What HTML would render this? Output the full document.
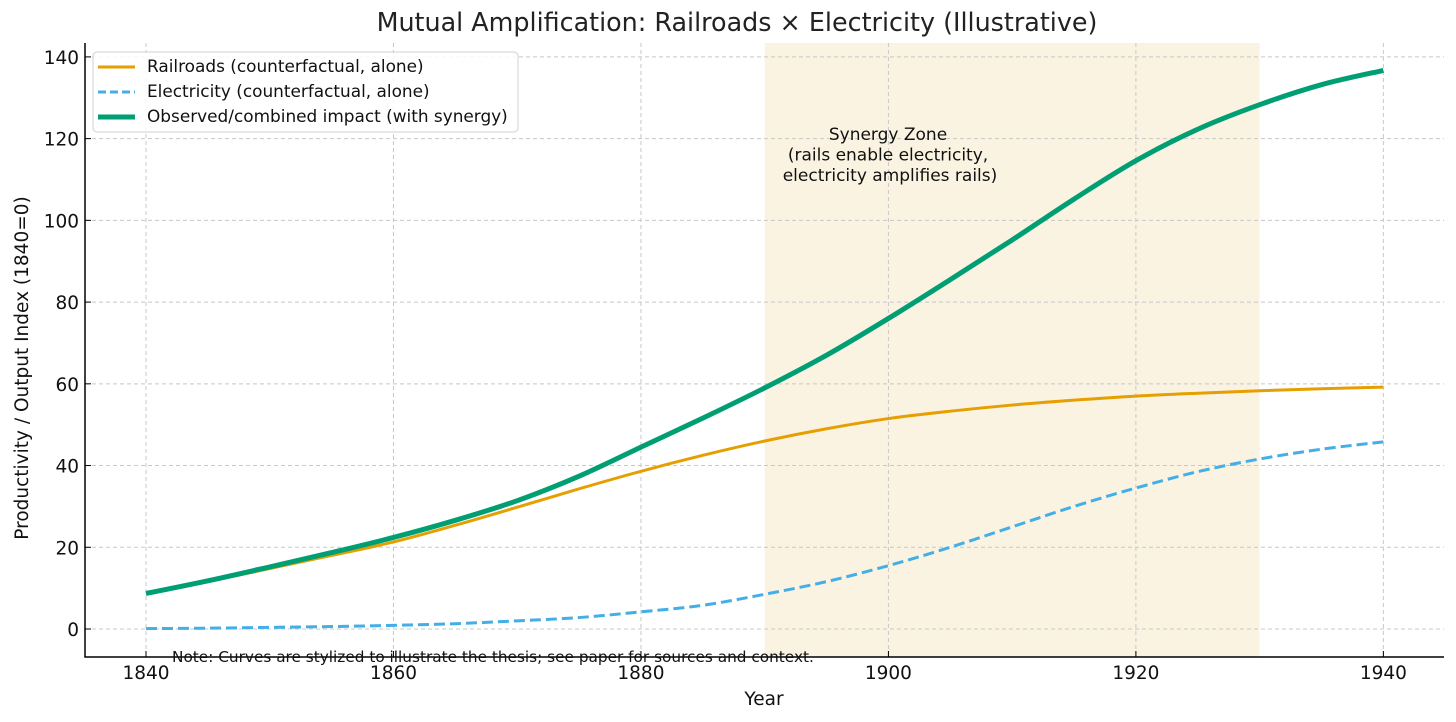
<!DOCTYPE html>
<html><head><meta charset="utf-8">
<style>
html,body{margin:0;padding:0;background:#fff;}
svg{display:block;font-family:"DejaVu Sans","Liberation Sans",sans-serif;}
</style></head>
<body>
<svg id="chart" width="1456" height="722"></svg>
<script>
const years = [1840,1845,1850,1855,1860,1865,1870,1875,1880,1885,1890,1895,1900,1905,1910,1915,1920,1925,1930,1935,1940];
const railroads = [8.7,11.6,14.8,18,21.3,25.4,29.8,34.3,38.6,42.5,46,49,51.5,53.3,54.8,56,57,57.7,58.3,58.8,59.2];
const electricity = [0.1,0.2,0.4,0.6,0.9,1.3,2,2.8,4.2,5.8,8.5,11.6,15.5,20,25,30,34.5,38.5,41.6,44,45.8];
const observed = [8.7,11.8,15.2,18.7,22.4,26.6,31.4,37.4,44.5,51.6,59,67,76,85.5,95.2,105.2,114.6,122.3,128.3,133.2,136.7];
const xTicks = [1840,1860,1880,1900,1920,1940];
const yTicks = [0,20,40,60,80,100,120,140];
const zone = [1890,1930];

const NS="http://www.w3.org/2000/svg";
const svg=document.getElementById('chart');
const L=85,R=1444,T=43,B=657;
const X0=1835.07,X1=1944.9,Y0=-6.85,Y1=143.4;
const sx=v=>L+(v-X0)/(X1-X0)*(R-L);
const sy=v=>B-(v-Y0)/(Y1-Y0)*(B-T);
function mk(tag,attrs,parent){const e=document.createElementNS(NS,tag);for(const k in attrs)e.setAttribute(k,attrs[k]);(parent||svg).appendChild(e);return e;}

const z=mk('rect',{x:sx(zone[0]),y:T,width:sx(zone[1])-sx(zone[0]),height:B-T,fill:'#faf3e2'});



xTicks.forEach(t=>{
  const g=mk('line',{x1:sx(t),x2:sx(t),y1:T,y2:B,stroke:'#c8c8c8','stroke-dasharray':'4,3','stroke-width':1});
  
  
  const tk=mk('line',{x1:sx(t),x2:sx(t),y1:B-6,y2:B,stroke:'#000'});
  
  
  const lb=mk('text',{x:sx(t),y:B+22,'text-anchor':'middle','font-size':18.5,fill:'#111'});
  lb.textContent=t;
  
  
});
yTicks.forEach(t=>{
  const g=mk('line',{x1:L,x2:R,y1:sy(t),y2:sy(t),stroke:'#c8c8c8','stroke-dasharray':'4,3','stroke-width':1});
  
  
  const tk=mk('line',{x1:L,x2:L+6,y1:sy(t),y2:sy(t),stroke:'#000'});
  
  
  const lb=mk('text',{x:L-6,y:sy(t)+7,'text-anchor':'end','font-size':18.5,fill:'#111'});
  lb.textContent=t;
  
  
});

const ax=mk('path',{d:`M${L},${T} L${L},${B} L${R},${B}`,fill:'none',stroke:'#000','stroke-width':1.5});



function smooth(xs,ys){
  const p=xs.map((x,i)=>[sx(x),sy(ys[i])]);
  let d=`M${p[0][0]},${p[0][1]}`;
  for(let i=0;i<p.length-1;i++){
    const p0=p[Math.max(0,i-1)],p1=p[i],p2=p[i+1],p3=p[Math.min(p.length-1,i+2)];
    const c1=[p1[0]+(p2[0]-p0[0])/6,p1[1]+(p2[1]-p0[1])/6];
    const c2=[p2[0]-(p3[0]-p1[0])/6,p2[1]-(p3[1]-p1[1])/6];
    d+=` C${c1[0]},${c1[1]} ${c2[0]},${c2[1]} ${p2[0]},${p2[1]}`;
  }
  return d;
}
const l1=mk('path',{d:smooth(years,railroads),fill:'none',stroke:'#e69f00','stroke-width':3});


const l2=mk('path',{d:smooth(years,electricity),fill:'none',stroke:'#44aee6','stroke-width':3,'stroke-dasharray':'11,5'});


const l3=mk('path',{d:smooth(years,observed),fill:'none',stroke:'#009e73','stroke-width':5});



const ann=mk('text',{x:888,y:140,'text-anchor':'middle','font-size':17,fill:'#111'});


['Synergy Zone','(rails enable electricity,','electricity amplifies rails)'].forEach((s,i)=>{
  const ts=mk('tspan',{x:i==2?890:888,dy:i?20.5:0},ann);ts.textContent=s;
});

const note=mk('text',{x:172,y:662,'font-size':15.3,fill:'#111'});
note.textContent='Note: Curves are stylized to illustrate the thesis; see paper for sources and context.';



const title=mk('text',{x:737,y:31,'text-anchor':'middle','font-size':25.4,fill:'#222'});
title.textContent='Mutual Amplification: Railroads × Electricity (Illustrative)';


const xl=mk('text',{x:764,y:705,'text-anchor':'middle','font-size':18.5,fill:'#111'});
xl.textContent='Year';


const yl=mk('text',{x:0,y:0,'text-anchor':'middle','font-size':18.5,fill:'#111',transform:`translate(28,368) rotate(-90)`});
yl.textContent='Productivity / Output Index (1840=0)';



const lg=mk('g',{});


mk('rect',{x:93,y:52,width:425,height:80,rx:4,fill:'#fff','fill-opacity':0.85,stroke:'#d0d0d0'},lg);
const entries=[['Railroads (counterfactual, alone)','#e69f00',3,''],['Electricity (counterfactual, alone)','#44aee6',3,'8,4'],['Observed/combined impact (with synergy)','#009e73',5,'']];
entries.forEach((e,i)=>{
  const y=67+i*25;
  const g=mk('g',{},lg);
  
  
  const ln=mk('line',{x1:98,x2:135,y1:y,y2:y,stroke:e[1],'stroke-width':e[2]},g);
  if(e[3])ln.setAttribute('stroke-dasharray',e[3]);
  const t=mk('text',{x:147,y:y+5,'font-size':16.9,fill:'#111'},g);
  t.textContent=e[0];
});
</script>
</body></html>
